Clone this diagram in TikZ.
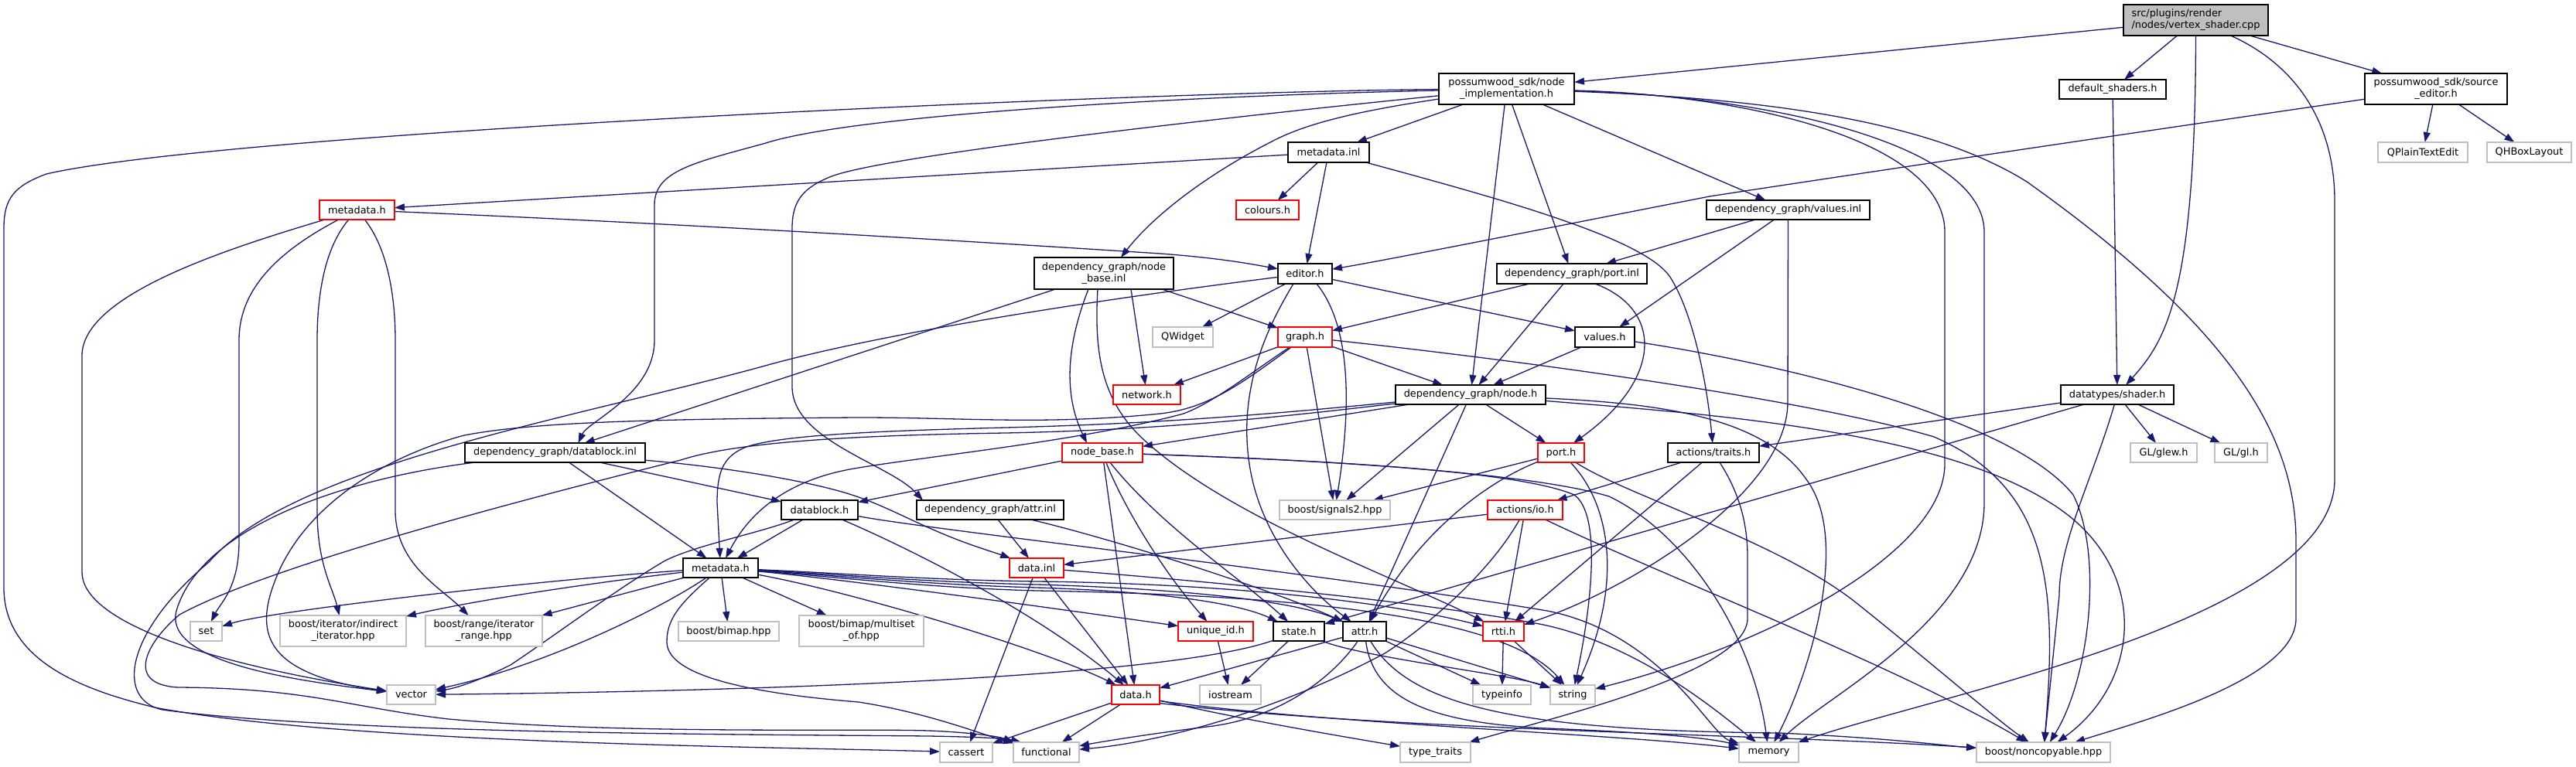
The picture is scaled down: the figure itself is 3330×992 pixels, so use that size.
\documentclass[tikz,border=0pt]{standalone}
\usepackage{fontspec}
\setmainfont{DejaVu Sans}
\usetikzlibrary{arrows.meta}
\definecolor{edgec}{HTML}{191970}
\definecolor{grayb}{HTML}{BFBFBF}
\pgfdeclarelayer{bglayer}
\pgfdeclarelayer{edgelayer}
\pgfsetlayers{bglayer,edgelayer,main}
\begin{document}
\begin{tikzpicture}[x=1pt,y=-1pt,
  every node/.style={font=\fontsize{12.9}{15}\selectfont},
  bk/.style={draw=black, line width=1.4pt, fill=white, inner sep=0pt, outer sep=0pt, align=center, text=black, minimum height=25pt},
  rd/.style={bk, draw=red},
  gr/.style={bk, draw=grayb},
  e/.style={draw=edgec, line width=1.3pt, -{Triangle[length=13pt,width=9pt]}}
]
\useasboundingbox (0,0) rectangle (3330,992);
\begin{pgfonlayer}{bglayer}
\fill[white] (0,0) rectangle (3330,992);
\end{pgfonlayer}

% nodes
\node[bk, fill=grayb, align=left, minimum width=187pt, minimum height=40pt] (src) at (2838.5,26) {src/plugins/render\\/nodes/vertex\_shader.cpp};
\node[bk, minimum width=175pt, minimum height=40pt] (ni) at (1947.5,115) {possumwood\_sdk/node\\\_implementation.h};
\node[bk, minimum width=138pt] (dsh) at (2731,115.5) {default\_shaders.h};
\node[bk, minimum width=184pt, minimum height=40pt] (se) at (3149,115) {possumwood\_sdk/source\\\_editor.h};
\node[gr, minimum width=116pt, minimum height=26pt] (qpte) at (3132,197) {QPlainTextEdit};
\node[gr, minimum width=109pt, minimum height=26pt] (qhbl) at (3269.5,197) {QHBoxLayout};
\node[bk, minimum width=105pt, minimum height=26pt] (minl) at (1717.5,197) {metadata.inl};
\node[rd, minimum width=97pt] (mdhred) at (461.5,271.5) {metadata.h};
\node[rd, minimum width=81pt] (col) at (1638.5,271.5) {colours.h};
\node[bk, minimum width=211pt] (vinl) at (2311.5,271.5) {dependency\_graph/values.inl};
\node[bk, minimum width=180pt, minimum height=41pt] (nbinl) at (1427,353.5) {dependency\_graph/node\\\_base.inl};
\node[bk, minimum width=70pt, minimum height=26pt] (editor) at (1687,354) {editor.h};
\node[bk, minimum width=194pt, minimum height=26pt] (pinl) at (2032,354) {dependency\_graph/port.inl};
\node[gr, minimum width=78pt, minimum height=26pt] (qw) at (1529,436) {QWidget};
\node[rd, minimum width=70pt, minimum height=26pt] (graph) at (1687,436) {graph.h};
\node[bk, minimum width=77pt, minimum height=26pt] (valh) at (2074.5,436) {values.h};
\node[rd, minimum width=87pt] (net) at (1482.5,510.5) {network.h};
\node[bk, minimum width=194pt] (nodeh) at (1901,510.5) {dependency\_graph/node.h};
\node[bk, minimum width=146pt] (shader) at (2737,510.5) {datatypes/shader.h};
\node[bk, minimum width=233pt] (dbinl) at (717.5,585.5) {dependency\_graph/datablock.inl};
\node[rd, minimum width=104pt] (nbh) at (1425,585.5) {node\_base.h};
\node[rd, minimum width=60pt] (porth) at (2018,585.5) {port.h};
\node[bk, minimum width=118pt] (traits) at (2215,585.5) {actions/traits.h};
\node[gr, minimum width=86pt] (glew) at (2797,585.5) {GL/glew.h};
\node[gr, minimum width=68pt] (gl) at (2897,585.5) {GL/gl.h};
\node[bk, minimum width=99pt] (dbh) at (1059.5,659.5) {datablock.h};
\node[bk, minimum width=190pt] (ainl) at (1280,659.5) {dependency\_graph/attr.inl};
\node[gr, minimum width=143pt] (sig) at (1725.5,659.5) {boost/signals2.hpp};
\node[rd, minimum width=97pt] (io) at (1971.5,659.5) {actions/io.h};
\node[bk, minimum width=97pt] (mdh) at (931.5,734.5) {metadata.h};
\node[rd, minimum width=70pt] (dinl) at (1340,734.5) {data.inl};
\node[gr, minimum width=41pt] (set) at (266.5,816.5) {set};
\node[gr, minimum width=163pt, minimum height=40pt] (indir) at (443.5,816) {boost/iterator/indirect\\\_iterator.hpp};
\node[gr, minimum width=151pt, minimum height=40pt] (range) at (625.5,816) {boost/range/iterator\\\_range.hpp};
\node[gr, minimum width=130pt] (bimap) at (942,816.5) {boost/bimap.hpp};
\node[gr, minimum width=161pt, minimum height=40pt] (mset) at (1113.5,816) {boost/bimap/multiset\\\_of.hpp};
\node[rd, minimum width=97pt] (uid) at (1571.5,816.5) {unique\_id.h};
\node[bk, minimum width=66pt] (state) at (1679,816.5) {state.h};
\node[bk, minimum width=56pt] (attr) at (1764,816.5) {attr.h};
\node[rd, minimum width=53pt] (rtti) at (1943.5,816.5) {rtti.h};
\node[gr, minimum width=63pt] (vector) at (531.5,898.5) {vector};
\node[rd, minimum width=62pt] (datah) at (1468,898.5) {data.h};
\node[gr, minimum width=79pt] (ios) at (1590.5,898.5) {iostream};
\node[gr, minimum width=75pt] (tinfo) at (1941.5,898.5) {typeinfo};
\node[gr, minimum width=58pt] (string) at (2033,898.5) {string};
\node[gr, minimum width=68pt, minimum height=26pt] (cassert) at (1249,973) {cassert};
\node[gr, minimum width=85pt, minimum height=26pt] (func) at (1352.5,973) {functional};
\node[gr, minimum width=91pt, minimum height=26pt] (ttraits) at (1855.5,973) {type\_traits};
\node[gr, minimum width=77pt, minimum height=26pt] (memory) at (2286.5,973) {memory};
\node[gr, minimum width=173pt, minimum height=26pt] (nonc) at (2641.5,973) {boost/noncopyable.hpp};

\begin{pgfonlayer}{edgelayer}
% src
\draw[e] (src) -- (ni);
\draw[e] (src) -- (dsh);
\draw[e] (src) -- (se);
\draw[e] (src) .. controls (2838,380) and (2800,440) .. (shader);
\draw[e] (src) .. controls (2960,80) and (3018,150) .. (3018,260) -- (3018,620) .. controls (3018,800) and (2500,900) .. (memory);
\draw[e] (dsh) -- (shader);
% source editor
\draw[e] (se) .. controls (2700,180) and (2300,240) .. (2210,254) .. controls (2000,295) and (1800,335) .. (editor);
\draw[e] (se) -- (qpte);
\draw[e] (se) -- (qhbl);
% node_implementation
\draw[e] (ni) .. controls (1500,118) and (300,170) .. (60,225) .. controls (20,240) and (5,255) .. (5,295) -- (5,760) .. controls (5,860) and (120,895) .. (200,915) .. controls (450,962) and (1000,966) .. (cassert);
\draw[e] (ni) .. controls (1500,125) and (1100,150) .. (990,185) .. controls (900,210) and (846,220) .. (846,265) -- (846,440) .. controls (846,510) and (760,545) .. ([xshift=30pt]dbinl.north);
\draw[e] (ni) .. controls (1600,150) and (1150,200) .. (1075,228) .. controls (1040,242) and (1024,258) .. (1024,295) -- (1024,500) .. controls (1024,570) and (1150,600) .. ([xshift=8pt]ainl.north west);
\draw[e] (ni) .. controls (1780,140) and (1700,155) .. (1650,180) .. controls (1560,225) and (1490,280) .. ([xshift=22pt]nbinl.north);
\draw[e] (ni) -- (minl);
\draw[e] (ni) -- (nodeh);
\draw[e] (ni) -- (pinl);
\draw[e] (ni) -- (vinl);
\draw[e] (ni) .. controls (2250,122) and (2514,180) .. (2514,300) -- (2514,600) .. controls (2514,710) and (2300,830) .. (string);
\draw[e] (ni) .. controls (2300,125) and (2565,190) .. (2565,300) -- (2565,650) .. controls (2565,800) and (2360,900) .. (memory);
\draw[e] (ni) .. controls (2300,128) and (2500,160) .. (2620,235) .. controls (2880,420) and (2968,560) .. (2968,700) -- (2968,800) .. controls (2968,880) and (2760,935) .. (nonc);
% metadata.inl
\draw[e] (minl) -- (mdhred);
\draw[e] (minl) -- (col);
\draw[e] (minl) -- (editor);
\draw[e] (minl) .. controls (1950,260) and (2130,310) .. (2160,360) .. controls (2185,400) and (2205,480) .. (traits);
% metadata.h (red)
\draw[e] (mdhred) .. controls (900,290) and (1300,315) .. (1500,328) .. controls (1580,334) and (1620,342) .. (editor);
\draw[e] (mdhred) .. controls (300,320) and (106,380) .. (106,460) -- (106,740) .. controls (106,800) and (250,855) .. (vector);
\draw[e] (mdhred) .. controls (350,330) and (309,380) .. (309,440) -- (309,700) .. controls (309,760) and (285,780) .. (set);
\draw[e] (mdhred) .. controls (420,320) and (410,380) .. (410,440) -- (410,660) .. controls (410,730) and (430,760) .. (indir);
\draw[e] (mdhred) .. controls (500,320) and (511,380) .. (511,440) -- (511,660) .. controls (511,730) and (570,760) .. (range);
% editor
\draw[e] (editor) .. controls (1400,390) and (1150,430) .. (1000,470) .. controls (750,540) and (380,600) .. (270,727) .. controls (160,820) and (150,905) .. (210,918) .. controls (450,950) and (1000,950) .. (1200,952) .. controls (1260,953) and (1300,955) .. ([xshift=10pt]func.north west);
\draw[e] (editor) -- (qw);
\draw[e] ([xshift=-15pt]editor.south) .. controls (1640,420) and (1600,500) .. (1615,600) .. controls (1630,700) and (1700,770) .. (attr);
\draw[e] ([xshift=15pt]editor.south) .. controls (1745,420) and (1748,520) .. (sig);
\draw[e] (editor) -- (valh);
% node_base.inl
\draw[e] (nbinl) -- (dbinl);
\draw[e] ([xshift=-20pt]nbinl.south) .. controls (1385,430) and (1370,500) .. ([xshift=-20pt]nbh.north);
\draw[e] ([xshift=-8pt]nbinl.south) .. controls (1414,460) and (1425,520) .. (1480,570) .. controls (1590,670) and (1800,745) .. (rtti);
\draw[e] ([xshift=35pt]nbinl.south) -- (net);
\draw[e] ([xshift=75pt]nbinl.south) -- (graph);
% port.inl
\draw[e] (pinl) -- (graph);
\draw[e] (pinl) -- (nodeh);
\draw[e] ([xshift=30pt]pinl.south) .. controls (2150,400) and (2150,490) .. ([xshift=16pt]porth.north);
% values.inl
\draw[e] (vinl) -- (pinl);
\draw[e] (vinl) -- (valh);
\draw[e] (vinl) -- (2311,520) .. controls (2311,640) and (2100,765) .. (rtti);
% graph.h
\draw[e] (graph) -- (net);
\draw[e] (graph) -- (nodeh);
\draw[e] (graph) -- (sig);
\draw[e] (graph) .. controls (2000,470) and (2350,520) .. (2500,565) .. controls (2650,630) and (2660,760) .. (nonc);
\draw[e] (graph) .. controls (1600,500) and (1560,528) .. (1500,535) .. controls (1350,550) and (1250,540) .. (1110,540) .. controls (800,542) and (680,548) .. (600,563) .. controls (500,590) and (400,650) .. (360,740) .. controls (330,810) and (330,870) .. (vector);
\draw[e] (graph) .. controls (1620,480) and (1570,520) .. (1530,535) .. controls (1400,570) and (1200,590) .. (1110,605) .. controls (1000,622) and (960,680) .. (mdh);
% values.h
\draw[e] (valh) -- (nodeh);
\draw[e] (valh) .. controls (2300,470) and (2600,540) .. (2680,640) .. controls (2720,720) and (2700,880) .. (nonc);
% node.h
\draw[e] (nodeh) -- (nbh);
\draw[e] (nodeh) -- (sig);
\draw[e] (nodeh) -- (attr);
\draw[e] (nodeh) -- (porth);
\draw[e] (nodeh) .. controls (2150,522) and (2280,540) .. (2335,620) .. controls (2395,700) and (2335,880) .. (memory);
\draw[e] (nodeh) .. controls (2200,535) and (2500,555) .. (2650,650) .. controls (2780,730) and (2770,880) .. (nonc);
\draw[e] (nodeh) .. controls (1650,535) and (1500,548) .. (1300,553) .. controls (1150,557) and (1000,562) .. (960,580) .. controls (935,592) and (927,610) .. (927,650) -- (mdh);
\draw[e] (nodeh) .. controls (1650,540) and (1500,556) .. (1300,560) .. controls (1100,563) and (950,572) .. (880,595) .. controls (700,640) and (350,730) .. (232,795) .. controls (190,830) and (160,885) .. (230,889) .. controls (400,890) and (450,915) .. (580,930) .. controls (800,950) and (1100,942) .. (1200,945) .. controls (1250,947) and (1290,952) .. (func.north west);
% node_base.h
\draw[e] (nbh) -- (dbh);
\draw[e] (nbh) .. controls (1500,680) and (1600,745) .. (state);
\draw[e] (nbh) -- (datah);
\draw[e] (nbh) .. controls (1450,650) and (1500,735) .. (uid);
\draw[e] (nbh) .. controls (1700,595) and (1960,608) .. (2035,640) .. controls (2070,665) and (2058,780) .. (string);
\draw[e] (nbh) .. controls (1800,598) and (2000,618) .. (2080,642) .. controls (2180,690) and (2265,820) .. (memory);
% port.h
\draw[e] (porth) -- (sig);
\draw[e] (porth) .. controls (1930,620) and (1840,680) .. (attr);
\draw[e] (porth) .. controls (2080,650) and (2100,750) .. (string);
\draw[e] (porth) .. controls (2100,640) and (2300,700) .. (2400,780) .. controls (2500,860) and (2580,930) .. (nonc);
% traits
\draw[e] (traits) -- (io);
\draw[e] (traits) -- (rtti);
\draw[e] (traits) .. controls (2250,640) and (2259,680) .. (2259,720) -- (2259,800) .. controls (2259,870) and (2000,930) .. (ttraits);
% shader
\draw[e] (shader) -- (traits);
\draw[e] (shader) -- (state);
\draw[e] (shader) .. controls (2705,620) and (2662,700) .. (2662,770) -- (nonc);
\draw[e] (shader) -- (glew);
\draw[e] (shader) -- (gl);
% datablock.inl
\draw[e] (dbinl) -- (mdh);
\draw[e] (dbinl) -- (dbh);
\draw[e] (dbinl) .. controls (950,605) and (1060,625) .. (1110,643) .. controls (1150,657) and (1180,675) .. (1230,695) .. controls (1260,707) and (1290,716) .. (dinl);
\draw[e] (dbinl) .. controls (450,618) and (260,680) .. (228,790) .. controls (210,860) and (400,882) .. (vector);
% attr.inl
\draw[e] (ainl) -- (dinl);
\draw[e] (ainl) .. controls (1450,700) and (1650,765) .. (attr);
% datablock.h
\draw[e] (dbh) -- (mdh);
\draw[e] (dbh) .. controls (980,690) and (900,705) .. (860,725) .. controls (800,760) and (720,820) .. (660,860) .. controls (620,880) and (590,890) .. (vector);
\draw[e] (dbh) .. controls (1200,720) and (1350,800) .. (datah);
\draw[e] ([yshift=-8pt]dbh.east) .. controls (1200,685) and (1700,740) .. (2000,790) .. controls (2150,820) and (2210,950) .. (memory);
% data.inl
\draw[e] (dinl) -- (cassert);
\draw[e] (dinl) -- (datah);
\draw[e] (dinl) .. controls (1600,755) and (1850,780) .. (1995,808) .. controls (2120,835) and (2220,920) .. (memory);
% io.h
\draw[e] (io) -- (dinl);
\draw[e] (io) .. controls (1920,750) and (1830,820) .. (1790,845) .. controls (1650,920) and (1500,960) .. (func);
\draw[e] (io) -- (rtti);
\draw[e] (io) .. controls (2150,745) and (2450,860) .. (nonc);
% metadata.h
\draw[e] (mdh) .. controls (700,750) and (350,790) .. (set);
\draw[e] (mdh) .. controls (780,752) and (620,775) .. (indir);
\draw[e] (mdh) -- (range);
\draw[e] (mdh) -- (bimap);
\draw[e] (mdh) -- (mset);
\draw[e] (mdh) .. controls (850,790) and (700,862) .. (vector);
\draw[e] (mdh) .. controls (1100,765) and (1350,840) .. (datah);
\draw[e] (mdh) .. controls (880,780) and (862,800) .. (862,830) .. controls (862,870) and (950,895) .. (1110,908) .. controls (1200,922) and (1270,950) .. (func);
\draw[e] (mdh) .. controls (1100,750) and (1400,792) .. (uid);
\draw[e] (mdh) .. controls (1100,746) and (1200,756) .. (1340,760) .. controls (1500,765) and (1600,780) .. (state);
\draw[e] (mdh) .. controls (1100,744) and (1200,753) .. (1340,756) .. controls (1550,762) and (1680,780) .. (attr);
\draw[e] (mdh) .. controls (1100,742) and (1200,750) .. (1340,752) .. controls (1600,755) and (1800,780) .. (rtti);
\draw[e] (mdh) .. controls (1100,748) and (1200,760) .. (1340,764) .. controls (1700,770) and (1950,800) .. (string);
% unique_id, state
\draw[e] (uid) -- (ios);
\draw[e] (state) .. controls (1500,880) and (900,895) .. (vector);
\draw[e] (state) -- (ios);
\draw[e] (state) .. controls (1760,850) and (1950,872) .. (string);
% attr.h
\draw[e] (attr) -- (datah);
\draw[e] (attr) .. controls (1720,880) and (1650,930) .. (1560,940) .. controls (1480,950) and (1420,960) .. (func);
\draw[e] (attr) -- (tinfo);
\draw[e] (attr) -- (string);
\draw[e] (attr) .. controls (1775,905) and (1850,935) .. (2000,942) .. controls (2150,948) and (2210,955) .. (memory);
\draw[e] (attr) .. controls (1820,910) and (1950,945) .. (2300,948) .. controls (2450,955) and (2520,965) .. (nonc);
% rtti
\draw[e] (rtti) -- (tinfo);
\draw[e] (rtti) -- (string);
% data.h
\draw[e] (datah) -- (cassert);
\draw[e] (datah) -- (func);
\draw[e] (datah) .. controls (1600,930) and (1750,955) .. (ttraits);
\draw[e] ([yshift=-8pt]datah.east) .. controls (1700,935) and (2100,950) .. (memory);
\draw[e] ([yshift=-11pt]datah.east) .. controls (1800,945) and (2300,950) .. (nonc);
\end{pgfonlayer}
\end{tikzpicture}
\end{document}
